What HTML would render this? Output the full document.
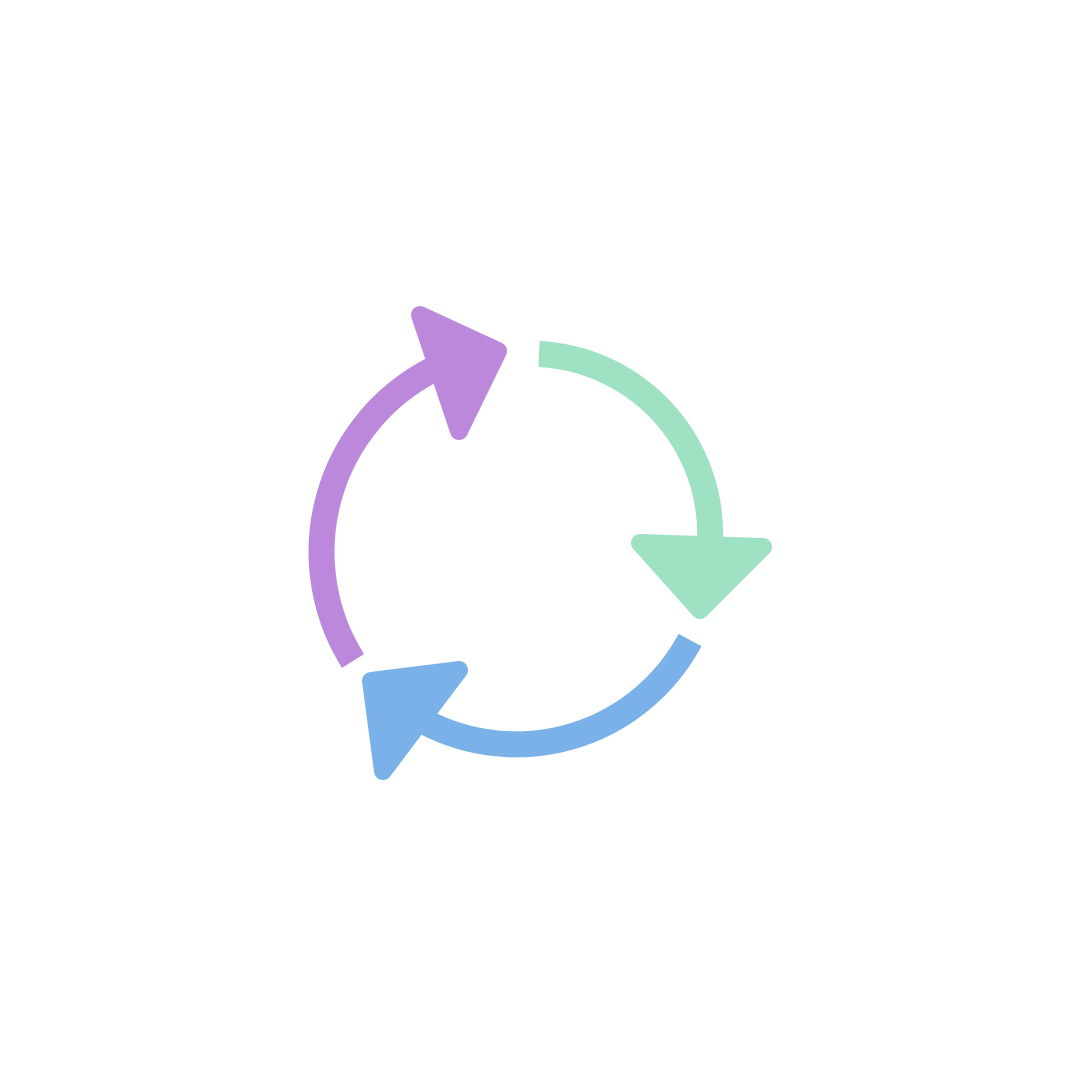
<!DOCTYPE html>
<html><head><meta charset="utf-8"><style>html,body{margin:0;padding:0;background:#fff}svg{display:block}</style></head>
<body>
<svg width="1080" height="1080" viewBox="0 0 1080 1080" xmlns="http://www.w3.org/2000/svg">
<rect width="1080" height="1080" fill="#fff"/>
<g fill="none" stroke-width="26" stroke-linecap="butt">
<path d="M539,354 A180,180 0 0 1 710,540" stroke="#9fe1c3"/>
<path d="M353,661 A205,205 0 0 1 432,370" stroke="#bb88dc"/>
<path d="M690,640 A197,197 0 0 1 425,722" stroke="#7ab1e8"/>
</g>
<g stroke-linejoin="round" stroke-width="18">
<polygon points="640,543 763,547 700,610" fill="#9fe1c3" stroke="#9fe1c3"/>
<polygon points="420,315 498,351 459,431" fill="#bb88dc" stroke="#bb88dc"/>
<polygon points="371,681 459,670 383,771" fill="#7ab1e8" stroke="#7ab1e8"/>
</g>
</svg>
</body></html>
